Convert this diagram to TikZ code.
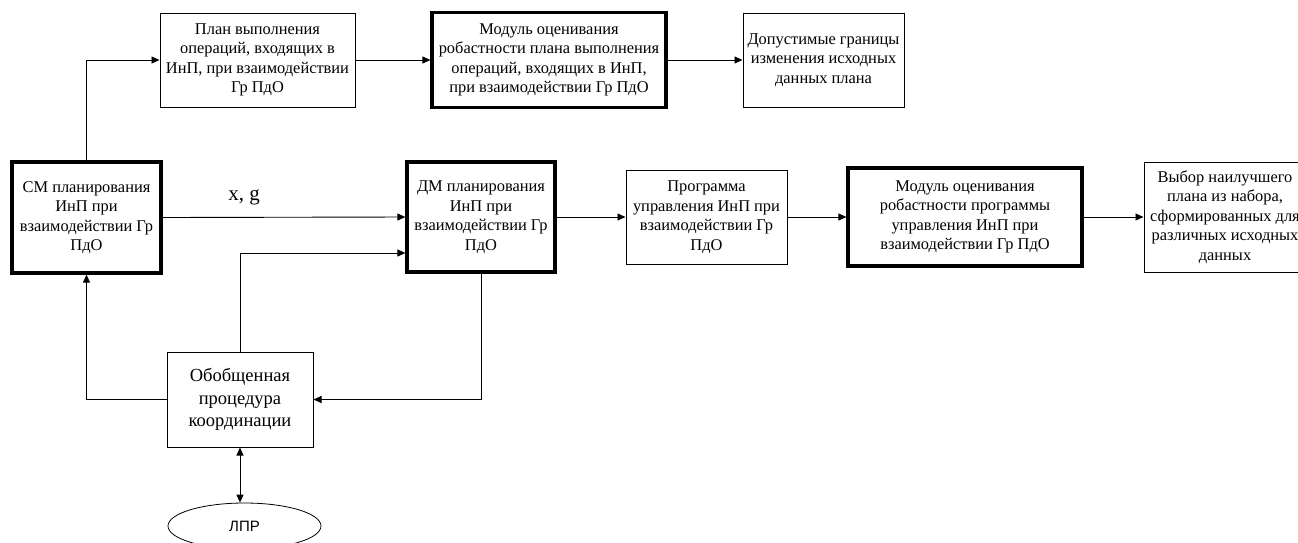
\documentclass[tikz,border=0pt]{standalone}
\usepackage{fontspec}
\setmainfont{Liberation Serif}
\newfontfamily\lprfont{Liberation Sans}
\usetikzlibrary{arrows.meta,shapes.geometric}
\begin{document}
\begin{tikzpicture}[x=1pt,y=-1pt,
  every node/.style={font=\fontsize{16.4}{19.5}\selectfont},
  thinbox/.style={draw, line width=1pt, align=center, inner sep=2pt},
  thickbox/.style={draw, line width=3.2pt, align=center, inner sep=2pt},
  arr/.style={line width=0.9pt, -{Triangle[length=8pt,width=7pt]}},
  darr/.style={line width=0.9pt, {Triangle[length=8pt,width=7pt]}-{Triangle[length=8pt,width=7pt]}},
  ln/.style={line width=0.9pt}]
\useasboundingbox (0,0) rectangle (1298,542);
\clip (0,0) rectangle (1298,542);
\node[thinbox, minimum width=195pt, minimum height=94pt] (plan) at (257.5,60)
  {План выполнения\\операций, входящих в\\ИнП, при взаимодействии\\Гр ПдО};
\node[thickbox, minimum width=234pt, minimum height=95pt] (mod1) at (549,60)
  {Модуль оценивания\\робастности плана выполнения\\операций, входящих в ИнП,\\при взаимодействии Гр ПдО};
\node[thinbox, minimum width=161pt, minimum height=94pt] (dop) at (823.5,60)
  {Допустимые границы\\изменения исходных\\данных плана};
\node[thickbox, minimum width=149pt, minimum height=111pt] (cm) at (86.5,217.5)
  {СМ планирования\\ИнП при\\взаимодействии Гр\\ПдО};
\node[thickbox, minimum width=148pt, minimum height=110pt] (dm) at (481,217)
  {ДМ планирования\\ИнП при\\взаимодействии Гр\\ПдО};
\node[thinbox, minimum width=161pt, minimum height=94pt] (prog) at (706.5,217)
  {Программа\\управления ИнП при\\взаимодействии Гр\\ПдО};
\node[thickbox, minimum width=234pt, minimum height=98pt] (mod2) at (965,217)
  {Модуль оценивания\\робастности программы\\управления ИнП при\\взаимодействии Гр ПдО};
\node[thinbox, minimum width=162pt, minimum height=110pt] (vyb) at (1225,217)
  {Выбор наилучшего\\плана из набора,\\сформированных для\\различных исходных\\данных};
\node[thinbox, minimum width=146pt, minimum height=95pt, font=\fontsize{18.5}{22.5}\selectfont] (obob) at (240,399.5)
  {Обобщенная\\процедура\\координации};
\node[draw, ellipse, line width=0.8pt, minimum width=153pt, minimum height=46pt, font=\lprfont\fontsize{15}{17}\selectfont] (lpr) at (244.5,526) {ЛПР};
\node[font=\fontsize{21}{24}\selectfont] (xg) at (244,197) {x, g};
\draw[arr] (cm.north) |- (plan.west);
\draw[arr] (plan.east) -- (mod1.west);
\draw[arr] (mod1.east) -- (dop.west);
\draw[arr] (cm.east) -- (dm.west);
\draw[arr] (obob.north) |- ([yshift=-36pt]dm.west);
\draw[arr] (dm.south) |- (obob.east);
\draw[arr] (obob.west) -| (cm.south);
\draw[arr] (dm.east) -- (prog.west);
\draw[arr] (prog.east) -- (mod2.west);
\draw[arr] (mod2.east) -- (vyb.west);
\draw[darr] (obob.south) -- (obob.south |- lpr.north);
\end{tikzpicture}
\end{document}
